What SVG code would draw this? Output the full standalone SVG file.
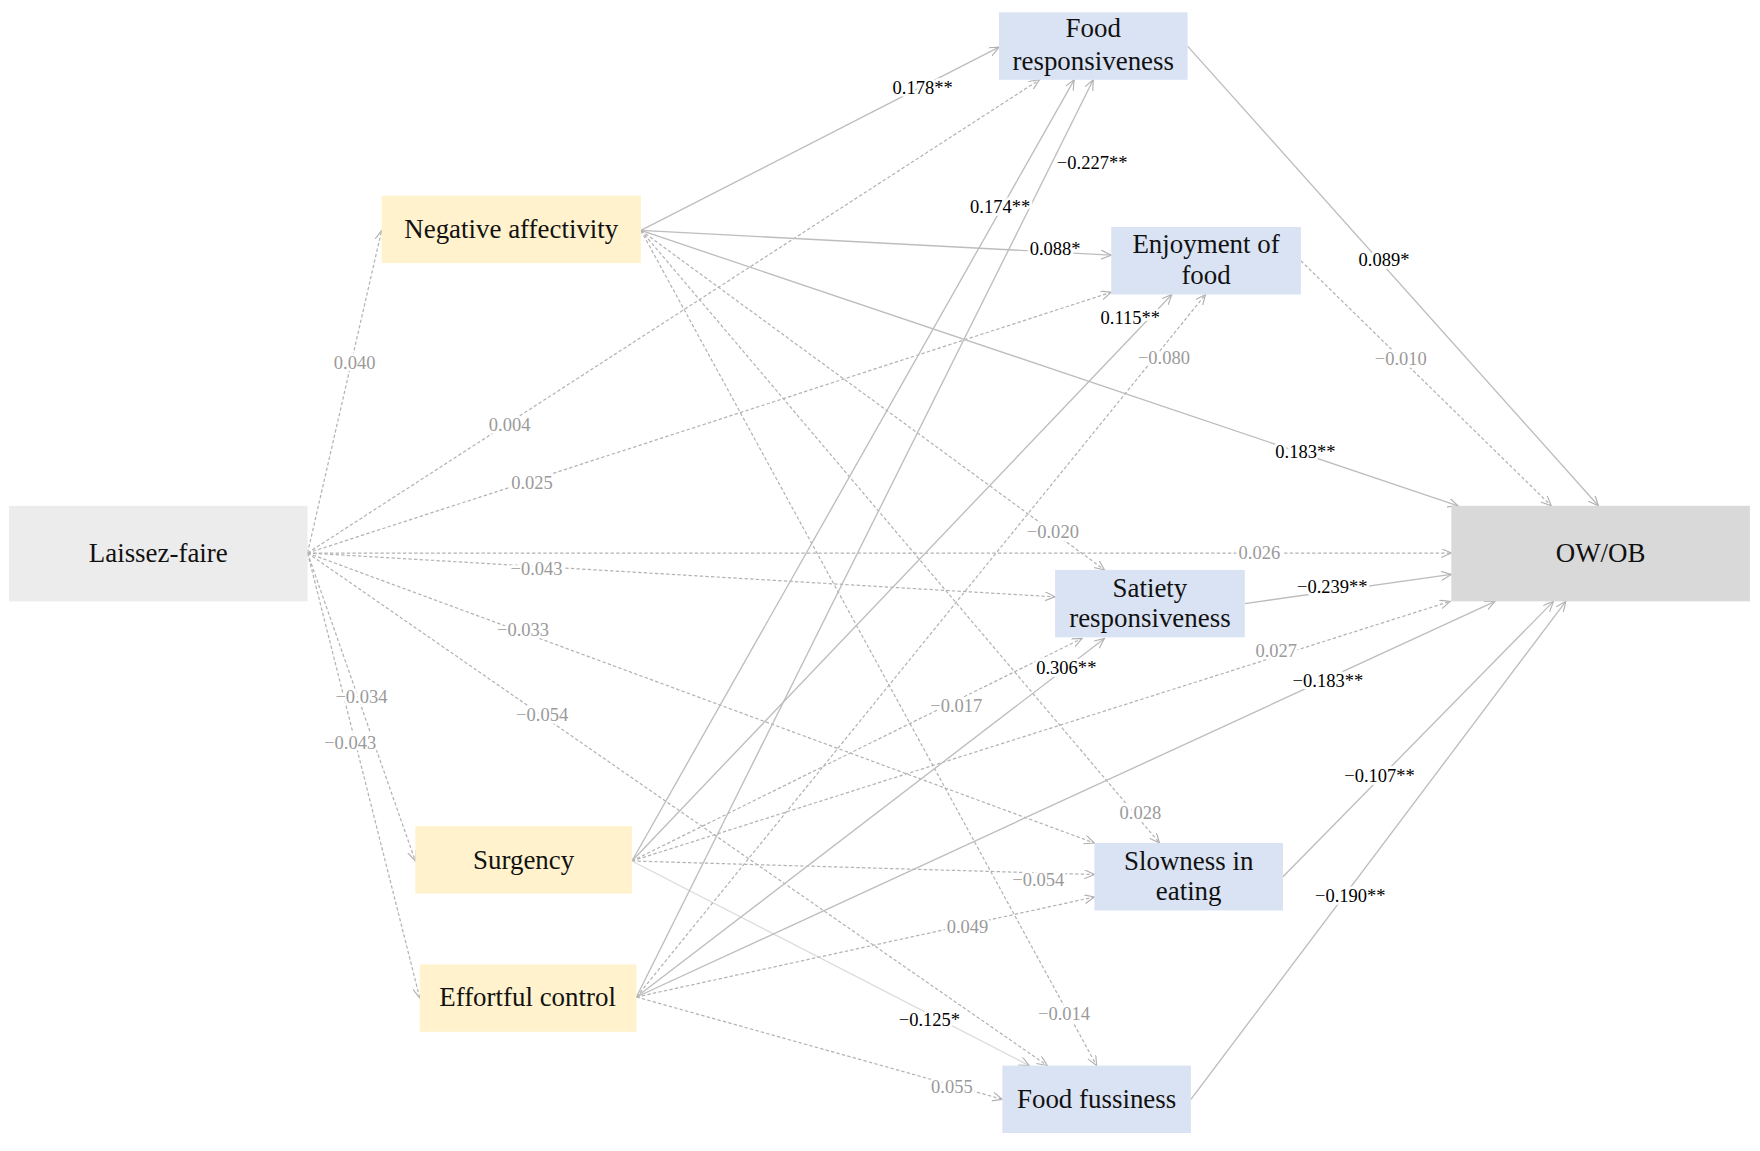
<svg xmlns="http://www.w3.org/2000/svg" width="1760" height="1151" viewBox="0 0 1760 1151">
<style>
.box{stroke:none}
.yel{fill:#fff2cc}
.blu{fill:#dae3f3}
.nt{font-family:"Liberation Serif","Times New Roman",serif;font-size:24px;fill:#111;text-anchor:middle}
.s{stroke:#bdbdbd;stroke-width:1.2;fill:none;marker-end:url(#ah)}
.sl{stroke:#dcdcdc;stroke-width:1.2;fill:none;marker-end:url(#ah)}
.d{stroke:#b3b3b3;stroke-width:1.1;fill:none;stroke-dasharray:3 2;marker-end:url(#ah)}
.lb{font-family:"Liberation Serif","Times New Roman",serif;font-size:16.5px;text-anchor:middle;stroke:#fff;stroke-width:5;stroke-linejoin:round;paint-order:stroke}
.k{fill:#000}
.g{fill:#9a9a9a}
</style>
<defs>
<marker id="ah" markerUnits="userSpaceOnUse" markerWidth="12" markerHeight="10" refX="9" refY="4" orient="auto">
<path d="M0,0 L9,4 L0,8" fill="none" stroke="#b0b0b0" stroke-width="1"/>
</marker>
</defs>
<rect width="1760" height="1151" fill="#fff"/>
<g transform="scale(1.12245,1.12402)">
<g id="connectors">
<line class="d" x1="274" y1="492" x2="340" y2="205"/>
<line class="d" x1="274" y1="492" x2="926" y2="71"/>
<line class="d" x1="274" y1="492" x2="990" y2="260"/>
<line class="d" x1="274" y1="492" x2="1293" y2="492"/>
<line class="d" x1="274" y1="492" x2="940" y2="531"/>
<line class="d" x1="274" y1="492" x2="975" y2="750"/>
<line class="d" x1="274" y1="492" x2="933" y2="948"/>
<line class="d" x1="274" y1="492" x2="370" y2="766"/>
<line class="d" x1="274" y1="492" x2="374" y2="888"/>
<line class="s" x1="571" y1="205" x2="890" y2="42"/>
<line class="s" x1="571" y1="205" x2="990" y2="227"/>
<line class="s" x1="571" y1="205" x2="1299" y2="450"/>
<line class="d" x1="571" y1="205" x2="984" y2="507"/>
<line class="d" x1="571" y1="205" x2="1033" y2="750"/>
<line class="d" x1="571" y1="205" x2="977" y2="948"/>
<line class="s" x1="563" y1="766" x2="957" y2="71"/>
<line class="s" x1="563" y1="766" x2="1044" y2="262"/>
<line class="d" x1="563" y1="766" x2="964" y2="568"/>
<line class="d" x1="563" y1="766" x2="1292" y2="535"/>
<line class="d" x1="563" y1="766" x2="975" y2="778"/>
<line class="sl" x1="563" y1="766" x2="917" y2="948"/>
<line class="s" x1="567" y1="887" x2="974" y2="71"/>
<line class="d" x1="567" y1="887" x2="1074" y2="262"/>
<line class="s" x1="567" y1="887" x2="984" y2="568"/>
<line class="s" x1="567" y1="887" x2="1332" y2="535"/>
<line class="d" x1="567" y1="887" x2="975" y2="798"/>
<line class="d" x1="567" y1="887" x2="893" y2="978"/>
<line class="s" x1="1058" y1="41" x2="1424" y2="450"/>
<line class="d" x1="1159" y1="232" x2="1382" y2="450"/>
<line class="s" x1="1109" y1="537" x2="1293" y2="511"/>
<line class="s" x1="1143" y1="780" x2="1384" y2="535"/>
<line class="s" x1="1061" y1="978" x2="1395" y2="535"/>
<g id="edge-labels">
<text class="lb g" x="316" y="328.5">0.040</text>
<text class="lb g" x="454" y="383.5">0.004</text>
<text class="lb g" x="474" y="435.5">0.025</text>
<text class="lb g" x="1122" y="497.5">0.026</text>
<text class="lb g" x="478" y="511.5">−0.043</text>
<text class="lb g" x="466" y="565.5">−0.033</text>
<text class="lb g" x="483" y="641.5">−0.054</text>
<text class="lb g" x="322" y="625.5">−0.034</text>
<text class="lb g" x="312" y="666.5">−0.043</text>
<text class="lb k" x="822" y="83.5">0.178**</text>
<text class="lb k" x="940" y="226.5">0.088*</text>
<text class="lb k" x="1163" y="407.5">0.183**</text>
<text class="lb g" x="938" y="478.5">−0.020</text>
<text class="lb g" x="1016" y="728.5">0.028</text>
<text class="lb g" x="948" y="907.5">−0.014</text>
<text class="lb k" x="891" y="189.5">0.174**</text>
<text class="lb k" x="973" y="150.5">−0.227**</text>
<text class="lb k" x="1007" y="288.5">0.115**</text>
<text class="lb g" x="1037" y="323.5">−0.080</text>
<text class="lb g" x="852" y="633.5">−0.017</text>
<text class="lb k" x="950" y="599.5">0.306**</text>
<text class="lb g" x="1137" y="584.5">0.027</text>
<text class="lb k" x="1183" y="611.5">−0.183**</text>
<text class="lb g" x="925" y="788.5">−0.054</text>
<text class="lb g" x="862" y="830.5">0.049</text>
<text class="lb k" x="828" y="912.5">−0.125*</text>
<text class="lb g" x="848" y="972.5">0.055</text>
<text class="lb k" x="1233" y="236.5">0.089*</text>
<text class="lb g" x="1248" y="324.5">−0.010</text>
<text class="lb k" x="1187" y="527.5">−0.239**</text>
<text class="lb k" x="1229" y="695.5">−0.107**</text>
<text class="lb k" x="1203" y="802.5">−0.190**</text>
</g>
</g>
<g id="laissez-faire"><rect class="box" x="8" y="450" width="266" height="85" fill="#ececec"/><text class="nt" x="141" y="500">Laissez-faire</text></g>
<g id="ow-ob"><rect class="box" x="1293" y="450" width="266" height="85" fill="#d9d9d9"/><text class="nt" x="1426" y="500">OW/OB</text></g>
<g id="negative-affectivity"><rect class="box yel" x="340" y="174" width="231" height="60"/><text class="nt" x="455.5" y="212">Negative affectivity</text></g>
<g id="surgency"><rect class="box yel" x="370" y="735" width="193" height="60"/><text class="nt" x="466.5" y="773">Surgency</text></g>
<g id="effortful-control"><rect class="box yel" x="374" y="858" width="193" height="60"/><text class="nt" x="470" y="895">Effortful control</text></g>
<g id="food-responsiveness"><rect class="box blu" x="890" y="11" width="168" height="60"/><text class="nt" x="974" y="33">Food</text><text class="nt" x="974" y="62">responsiveness</text></g>
<g id="enjoyment-of-food"><rect class="box blu" x="990" y="202" width="169" height="60"/><text class="nt" x="1074.5" y="225">Enjoyment of</text><text class="nt" x="1074.5" y="253">food</text></g>
<g id="satiety-responsiveness"><rect class="box blu" x="940" y="507" width="169" height="60"/><text class="nt" x="1024.5" y="531">Satiety</text><text class="nt" x="1024.5" y="558">responsiveness</text></g>
<g id="slowness-in-eating"><rect class="box blu" x="975" y="750" width="168" height="60"/><text class="nt" x="1059" y="774">Slowness in</text><text class="nt" x="1059" y="801">eating</text></g>
<g id="food-fussiness"><rect class="box blu" x="893" y="948" width="168" height="60"/><text class="nt" x="977" y="986">Food fussiness</text></g>
</g>
</svg>
